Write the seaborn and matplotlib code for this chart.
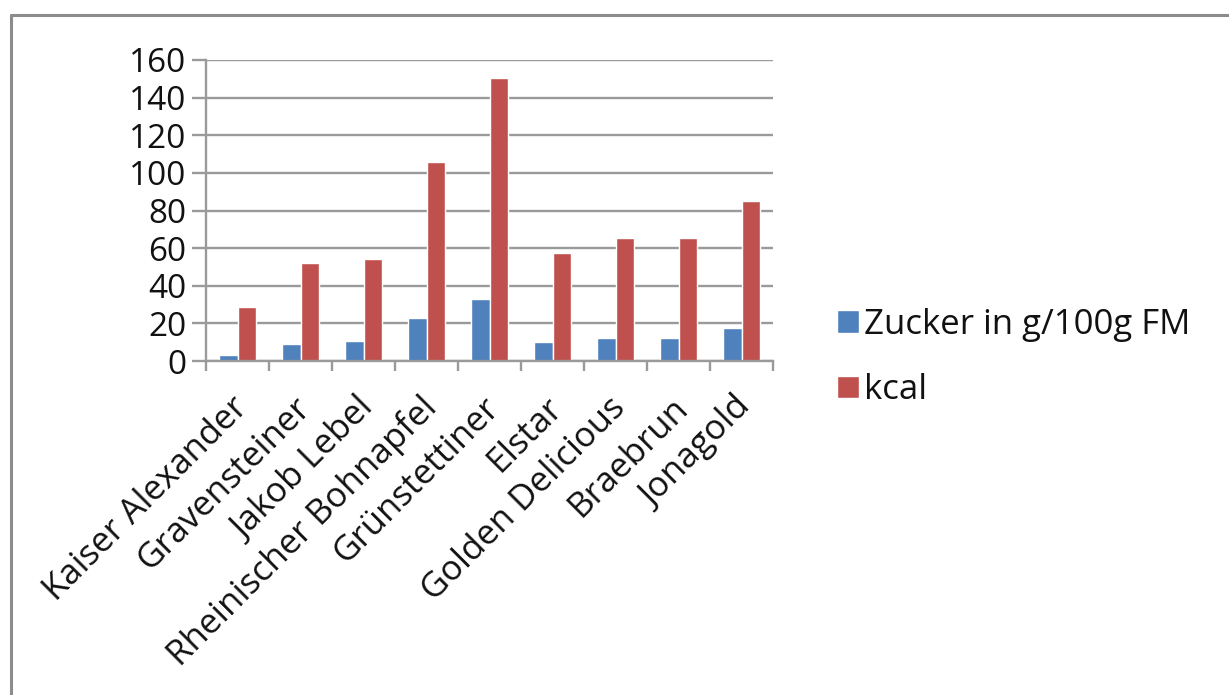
import seaborn as sns
import matplotlib.pyplot as plt
import pandas as pd
from matplotlib.lines import Line2D
from matplotlib.ticker import FixedLocator
import matplotlib.transforms as mtransforms

# apple varieties and values
varieties = ['Kaiser Alexander', 'Gravensteiner', 'Jakob Lebel', 'Rheinischer Bohnapfel',
             'Grünstettiner', 'Elstar', 'Golden Delicious', 'Braebrun', 'Jonagold']
zucker = [3.2, 9.3, 10.5, 22.6, 32.7, 10.1, 12.4, 12.4, 17.4]
kcal = [28.7, 52.2, 54.3, 105.9, 150.3, 57.2, 65.5, 65.5, 85.2]
series_names = ['Zucker in g/100g FM', 'kcal']
colors = {'Zucker in g/100g FM': '#4F81BD', 'kcal': '#C0504D'}
yticks = [0, 20, 40, 60, 80, 100, 120, 140, 160]

df = pd.DataFrame({
    'Sorte': varieties * 2,
    'Wert': zucker + kcal,
    'Serie': [series_names[0]] * len(varieties) + [series_names[1]] * len(varieties),
})

sns.set_style('white')
plt.rcParams['font.family'] = ['Open Sans', 'DejaVu Sans']

fig = plt.figure(figsize=(12.29, 6.95), dpi=100)
ax = fig.add_axes([206 / 1229, 1 - 361 / 695, (773 - 206) / 1229, (361 - 60) / 695])

sns.barplot(data=df, x='Sorte', y='Wert', hue='Serie', palette=colors,
            width=0.58, gap=0, saturation=1, errorbar=None, ax=ax)

grid_color = '#9a9a9a'
ax.set_ylim(0, 160)
ax.set_xlim(-0.5, len(varieties) - 0.5)
ax.set_yticks(yticks)
ax.yaxis.grid(True, color=grid_color, linewidth=1.7)
ax.set_axisbelow(True)
ax.set_xlabel('')
ax.set_ylabel('')

for side in ['top', 'right']:
    ax.spines[side].set_visible(False)
for side in ['left', 'bottom']:
    ax.spines[side].set_color(grid_color)
    ax.spines[side].set_linewidth(1.7)

ax.tick_params(axis='y', direction='out', length=10, width=1.7, color=grid_color,
               labelsize=24, pad=4, left=True, labelcolor='#111111')
ax.xaxis.set_minor_locator(FixedLocator([i - 0.5 for i in range(len(varieties) + 1)]))
ax.tick_params(axis='x', which='minor', direction='out', length=7.5, width=1.7,
               color=grid_color, bottom=True)
ax.tick_params(axis='x', which='major', length=0, pad=30, labelsize=25, labelcolor='#111111')
ax.set_xticks(range(len(varieties)))
ax.set_xticklabels(varieties, rotation=45, ha='right', va='center', rotation_mode='anchor')
offset = mtransforms.ScaledTranslation(5 / 100, 0, fig.dpi_scale_trans)
for lab in ax.get_xticklabels():
    lab.set_transform(lab.get_transform() + offset)

handles, labels = ax.get_legend_handles_labels()
leg = ax.legend(handles, labels, loc='center left', bbox_to_anchor=(837 / 1229, 1 - 357.5 / 695),
                bbox_transform=fig.transFigure, frameon=False, fontsize=25, borderpad=0,
                borderaxespad=0, handlelength=0.62, handleheight=0.62, handletextpad=0.15,
                labelspacing=0.9)
for t in leg.get_texts():
    t.set_color('#111111')

# chart frame (only the top and left edges are visible)
fig.add_artist(Line2D([11 / 1229, 11 / 1229], [0, 1 - 15 / 695], transform=fig.transFigure,
                      color='#8c8c8c', linewidth=2.2))
fig.add_artist(Line2D([11 / 1229, 1], [1 - 15 / 695, 1 - 15 / 695], transform=fig.transFigure,
                      color='#8c8c8c', linewidth=2.2))

fig.savefig('out.png', dpi=100, facecolor='white')
